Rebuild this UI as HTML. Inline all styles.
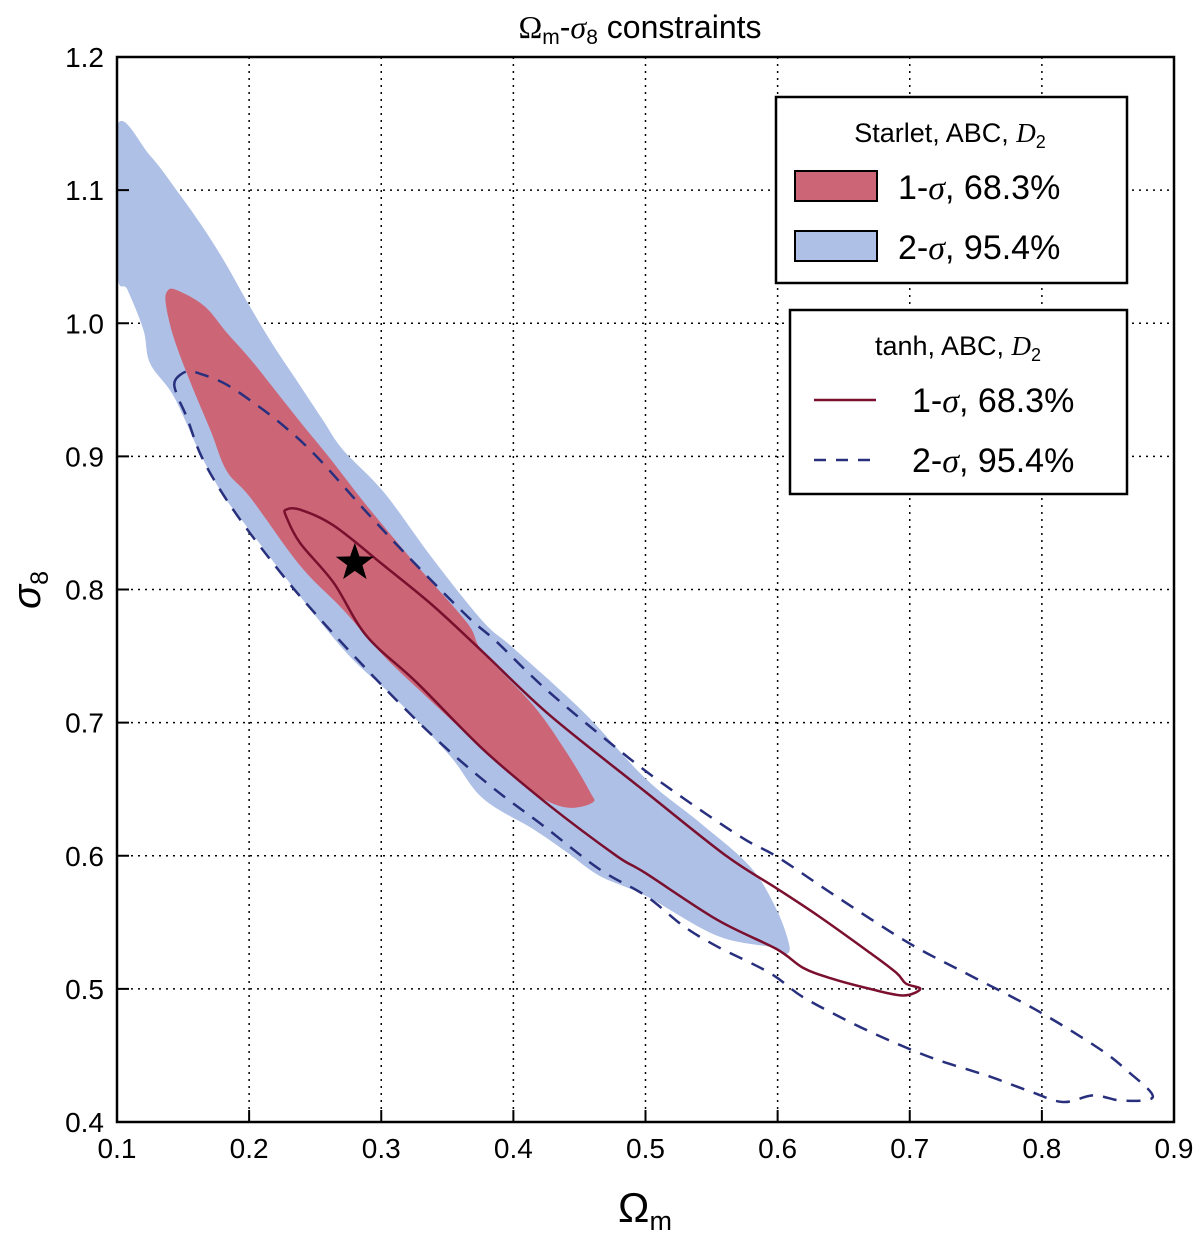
<!DOCTYPE html>
<html><head><meta charset="utf-8"><style>
body{margin:0;background:#fff;}
svg text{font-family:"Liberation Sans",sans-serif;}
</style></head><body>
<svg id="chart" width="1200" height="1233" xmlns="http://www.w3.org/2000/svg">
<text x="640" y="38" font-size="32" text-anchor="middle"><tspan font-family="Liberation Serif">Ω</tspan><tspan font-size="21" dy="6">m</tspan><tspan dy="-6">-</tspan><tspan font-family="Liberation Serif" font-style="italic">σ</tspan><tspan font-size="21" dy="6">8</tspan><tspan dy="-6"> constraints</tspan></text>
<g id="grid"></g>
<g id="marks"></g>
<g id="ticks"></g>
<rect x="117" y="57" width="1057" height="1065" fill="none" stroke="#000" stroke-width="2.5"/>
<text x="645" y="1222" font-size="42" text-anchor="middle" font-family="Liberation Serif">Ω<tspan font-size="27" dy="8">m</tspan></text>
<text transform="translate(40,590) rotate(-90)" font-size="40" text-anchor="middle" font-family="Liberation Serif" font-style="italic">σ<tspan font-size="25" dy="8" font-style="normal">8</tspan></text>
<g>
<rect x="776" y="97" width="351" height="186" fill="#fff" stroke="#000" stroke-width="2.5"/>
<text x="950" y="142" font-size="27" text-anchor="middle">Starlet, ABC, <tspan font-family="Liberation Serif" font-style="italic">D</tspan><tspan font-size="18" dy="6">2</tspan></text>
<rect x="795" y="171" width="82" height="30" fill="#cc6677" stroke="#000" stroke-width="2"/>
<text x="898" y="199" font-size="34">1-<tspan font-family="Liberation Serif" font-style="italic">σ</tspan>, 68.3%</text>
<rect x="795" y="231" width="82" height="30" fill="#aec0e6" stroke="#000" stroke-width="2"/>
<text x="898" y="259" font-size="34">2-<tspan font-family="Liberation Serif" font-style="italic">σ</tspan>, 95.4%</text>
</g>
<g>
<rect x="790" y="310" width="337" height="184" fill="#fff" stroke="#000" stroke-width="2.5"/>
<text x="958" y="355" font-size="27" text-anchor="middle">tanh, ABC, <tspan font-family="Liberation Serif" font-style="italic">D</tspan><tspan font-size="18" dy="6">2</tspan></text>
<line x1="814" y1="400" x2="876" y2="400" stroke="#7a0f2e" stroke-width="2.5"/>
<text x="912" y="412" font-size="34">1-<tspan font-family="Liberation Serif" font-style="italic">σ</tspan>, 68.3%</text>
<line x1="814" y1="460" x2="876" y2="460" stroke="#28307e" stroke-width="2.5" stroke-dasharray="12,10"/>
<text x="912" y="472" font-size="34">2-<tspan font-family="Liberation Serif" font-style="italic">σ</tspan>, 95.4%</text>
</g>
</svg>
<script>
const xTicks=[0.1,0.2,0.3,0.4,0.5,0.6,0.7,0.8,0.9];
const yTicks=[0.4,0.5,0.6,0.7,0.8,0.9,1.0,1.1,1.2];
const starlet2sigma=[[0.1,1.148],[0.125,1.126],[0.145,1.1],[0.163,1.075],[0.181,1.047],[0.198,1.017],[0.216,0.987],[0.236,0.957],[0.256,0.927],[0.271,0.905],[0.302,0.873],[0.339,0.823],[0.377,0.776],[0.4,0.756],[0.453,0.708],[0.5,0.658],[0.541,0.625],[0.579,0.592],[0.599,0.56],[0.609,0.532],[0.605,0.526],[0.597,0.531],[0.554,0.54],[0.5,0.57],[0.465,0.585],[0.44,0.603],[0.415,0.62],[0.377,0.643],[0.352,0.675],[0.314,0.715],[0.276,0.75],[0.2385,0.795],[0.2,0.845],[0.181,0.87],[0.163,0.902],[0.143,0.945],[0.125,0.97],[0.12,0.995],[0.108,1.025],[0.1,1.04]];
const starlet1sigma=[[0.138,1.024],[0.145,1.025],[0.166,1.013],[0.183,0.993],[0.201,0.973],[0.221,0.948],[0.241,0.923],[0.26,0.9],[0.289,0.863],[0.327,0.818],[0.365,0.775],[0.377,0.753],[0.415,0.713],[0.44,0.678],[0.458,0.648],[0.46,0.64],[0.442,0.636],[0.422,0.643],[0.402,0.658],[0.377,0.68],[0.339,0.715],[0.302,0.75],[0.271,0.785],[0.2385,0.818],[0.201,0.869],[0.183,0.889],[0.171,0.919],[0.155,0.957],[0.143,0.989],[0.137,1.014]];
const tanh1sigma=[[0.228,0.86],[0.2385,0.86],[0.264,0.848],[0.302,0.818],[0.339,0.788],[0.377,0.753],[0.427,0.706],[0.5,0.648],[0.561,0.6],[0.6,0.575],[0.632,0.554],[0.67,0.527],[0.69,0.512],[0.697,0.504],[0.708,0.5],[0.695,0.495],[0.67,0.5],[0.64,0.508],[0.619,0.516],[0.599,0.53],[0.554,0.552],[0.5,0.587],[0.478,0.6],[0.427,0.638],[0.377,0.68],[0.327,0.73],[0.289,0.765],[0.264,0.805],[0.2385,0.835],[0.228,0.855]];
const tanh2sigma=[[0.144,0.957],[0.153,0.964],[0.163,0.962],[0.181,0.955],[0.201,0.942],[0.226,0.923],[0.251,0.9],[0.289,0.858],[0.322,0.823],[0.365,0.78],[0.387,0.761],[0.427,0.723],[0.488,0.673],[0.529,0.643],[0.574,0.613],[0.6,0.599],[0.645,0.569],[0.7,0.534],[0.746,0.51],[0.796,0.484],[0.842,0.456],[0.864,0.439],[0.884,0.419],[0.861,0.416],[0.839,0.42],[0.816,0.415],[0.791,0.423],[0.758,0.435],[0.72,0.447],[0.69,0.459],[0.657,0.474],[0.619,0.494],[0.594,0.512],[0.554,0.532],[0.529,0.547],[0.5,0.57],[0.465,0.59],[0.422,0.623],[0.382,0.653],[0.339,0.69],[0.289,0.74],[0.2385,0.795],[0.201,0.842],[0.178,0.875],[0.163,0.902],[0.153,0.929],[0.145,0.947]];
const fiducial=[0.28,0.82];
const NS='http://www.w3.org/2000/svg';
const X=v=>117+(v-0.1)/0.8*1057;
const Y=v=>1122-(v-0.4)/0.8*1065;
function mk(tag,parent,attrs){const e=document.createElementNS(NS,tag);for(const k in attrs)e.setAttribute(k,attrs[k]);document.getElementById(parent).appendChild(e);return e;}
function smooth(a){
 const p=a.map(q=>[X(q[0]),Y(q[1])]);const n=p.length;const t=0.5/3*1.0;
 let s='M'+p[0][0].toFixed(1)+','+p[0][1].toFixed(1);
 for(let i=0;i<n;i++){
  const p0=p[(i-1+n)%n],p1=p[i],p2=p[(i+1)%n],p3=p[(i+2)%n];
  const c1=[p1[0]+(p2[0]-p0[0])/6,p1[1]+(p2[1]-p0[1])/6];
  const c2=[p2[0]-(p3[0]-p1[0])/6,p2[1]-(p3[1]-p1[1])/6];
  s+=' C'+c1[0].toFixed(1)+','+c1[1].toFixed(1)+' '+c2[0].toFixed(1)+','+c2[1].toFixed(1)+' '+p2[0].toFixed(1)+','+p2[1].toFixed(1);
 }
 return s+'Z';
}
xTicks.forEach(t=>{
 const l=mk('line','grid',{x1:X(t),x2:X(t),y1:57,y2:1122,stroke:'#000','stroke-width':1.5,'stroke-dasharray':'2,5'});
 
 
 const tk=mk('line','ticks',{x1:X(t),x2:X(t),y1:1122,y2:1110,stroke:'#000','stroke-width':2});
 
 
 const tx=mk('text','ticks',{x:X(t),y:1158,'font-size':28,'text-anchor':'middle'});tx.textContent=t.toFixed(1);
 
 
});
yTicks.forEach(t=>{
 const l=mk('line','grid',{x1:117,x2:1174,y1:Y(t),y2:Y(t),stroke:'#000','stroke-width':1.5,'stroke-dasharray':'2,5'});
 
 
 const tk=mk('line','ticks',{x1:117,x2:129,y1:Y(t),y2:Y(t),stroke:'#000','stroke-width':2});
 
 
 const tx=mk('text','ticks',{x:104,y:Y(t)+10,'font-size':28,'text-anchor':'end'});tx.textContent=t.toFixed(1);
 
 
});
const clip=mk('clipPath','marks',{id:'plotclip'});
const cr=document.createElementNS(NS,'rect');cr.setAttribute('x',117);cr.setAttribute('y',57);cr.setAttribute('width',1057);cr.setAttribute('height',1065);clip.appendChild(cr);
const b=mk('path','marks',{d:smooth(starlet2sigma),fill:'#aec0e6','clip-path':'url(#plotclip)'});


const r=mk('path','marks',{d:smooth(starlet1sigma),fill:'#cc6677'});


const m=mk('path','marks',{d:smooth(tanh1sigma),fill:'none',stroke:'#7a0f2e','stroke-width':2.5,'stroke-linejoin':'round'});


const d=mk('path','marks',{d:smooth(tanh2sigma),fill:'none',stroke:'#28307e','stroke-width':2.5,'stroke-dasharray':'14,10'});


const cx=X(fiducial[0]),cy=Y(fiducial[1]);let sp=[];
for(let i=0;i<10;i++){const a=-Math.PI/2+i*Math.PI/5,rr=i%2?8:20;sp.push((cx+rr*Math.cos(a)).toFixed(1)+','+(cy+rr*Math.sin(a)).toFixed(1));}
const s=mk('polygon','marks',{points:sp.join(' '),fill:'#000'});


</script>
</body></html>
